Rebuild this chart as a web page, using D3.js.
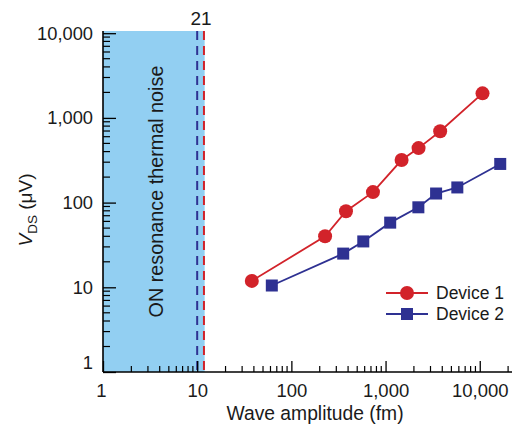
<!DOCTYPE html>
<html>
<head>
<meta charset="utf-8">
<script src="https://cdn.jsdelivr.net/npm/d3@7/dist/d3.min.js"></script>
<style>
  body { margin: 0; background: #fff; }
  text { font-family: "Liberation Sans", Arial, sans-serif; fill: #1a1a1a; }
</style>
</head>
<body>
<div id="chart"></div>
<script>
// data
var device1X = [38, 228, 380, 735, 1480, 2240, 3800, 10700];
var device1Y = [11.9, 40, 79, 133, 318, 440, 695, 1950];
var device2X = [62, 355, 580, 1120, 2230, 3440, 5780, 16500];
var device2Y = [10.5, 25, 34.8, 58, 88, 128, 151, 286];
var majorTicks = [1, 10, 100, 1000, 10000];
var noiseLimit = 12;      // fm, edge of thermal-noise band
var blueLineAt = 10;
var redLineAt = 11.8;

var width = 515, height = 426;
var svg = d3.select("#chart").append("svg").attr("width", width).attr("height", height);

var x = d3.scaleLog().domain([1, 22000]).range([103, 512]);
var y = d3.scaleLog().domain([1, 10000]).range([372, 33.2]);

var red = "#d2232a", blue = "#2e3192";
var fmt = d3.format(",");

// noise band
svg.append("rect")
  .attr("x", x(1)).attr("y", 31)
  .attr("width", x(noiseLimit) - x(1)).attr("height", y(1) - 31)
  .attr("fill", "#92cff2");

svg.append("line")
  .attr("x1", x(blueLineAt)).attr("x2", x(blueLineAt))
  .attr("y1", 31).attr("y2", y(1))
  .attr("stroke", blue).attr("stroke-width", 2).attr("stroke-dasharray", "9,6");
svg.append("line")
  .attr("x1", x(redLineAt)).attr("x2", x(redLineAt))
  .attr("y1", 31).attr("y2", y(1))
  .attr("stroke", red).attr("stroke-width", 2).attr("stroke-dasharray", "9,6");

svg.append("text")
  .attr("x", x(redLineAt) - 3).attr("y", 25)
  .attr("text-anchor", "middle").style("font-size", "19px")
  .text("21");

svg.append("text")
  .attr("transform", "translate(163,191.5) rotate(-90)")
  .attr("text-anchor", "middle").style("font-size", "19.8px")
  .text("ON resonance thermal noise");

// minor ticks
var minors = [];
majorTicks.forEach(function(m) { for (var k = 2; k <= 9; k++) minors.push(m * k); });

var xAxis = d3.axisBottom(x).tickValues(majorTicks).tickSize(-11).tickFormat(fmt).tickSizeOuter(0);
var gx = svg.append("g").attr("transform", "translate(0," + y(1) + ")").call(xAxis);
gx.select(".domain").attr("stroke-width", 1.6).attr("d", "M" + x(1) + ",0H512");
gx.selectAll(".tick line").attr("stroke-width", 1.3);
gx.selectAll(".tick text").attr("y", 12).attr("dy", "0.71em").style("font-size", "18.5px").style("font-family", "Liberation Sans, Arial");
gx.selectAll(".minor").data(minors.filter(function(v) { return x(v) < 512; }))
  .enter().append("line").attr("class", "minor")
  .attr("x1", function(d) { return x(d); }).attr("x2", function(d) { return x(d); })
  .attr("y1", 0).attr("y2", -6).attr("stroke", "#000").attr("stroke-width", 1.2);

var yAxis = d3.axisLeft(y).tickValues(majorTicks).tickSize(-13).tickFormat(fmt).tickSizeOuter(0);
var gy = svg.append("g").attr("transform", "translate(" + x(1) + ",0)").call(yAxis);
gy.select(".domain").attr("stroke-width", 1.6).attr("d", "M0," + y(1) + "V31");
gy.selectAll(".tick line").attr("stroke-width", 1.3);
gy.selectAll(".tick text").attr("x", -10).style("font-size", "18.3px").style("font-family", "Liberation Sans, Arial");
gy.selectAll(".tick").filter(function(d) { return d === 1; }).select("text").attr("dy", "-0.2em");
gx.selectAll(".tick").filter(function(d) { return d === 1; }).select("text").attr("x", -2);
gy.selectAll(".minor").data(minors.filter(function(v) { return v < 10000; }))
  .enter().append("line").attr("class", "minor")
  .attr("y1", function(d) { return y(d); }).attr("y2", function(d) { return y(d); })
  .attr("x1", 0).attr("x2", 7).attr("stroke", "#000").attr("stroke-width", 1.2);

// axis titles
svg.append("text")
  .attr("x", 315).attr("y", 420).attr("text-anchor", "middle").style("font-size", "19.3px")
  .text("Wave amplitude (fm)");

var yt = svg.append("text")
  .attr("transform", "translate(32,210) rotate(-90)")
  .attr("text-anchor", "middle").style("font-size", "19px");
yt.append("tspan").style("font-style", "italic").text("V");
yt.append("tspan").attr("dy", 5).style("font-size", "13.5px").text("DS");
yt.append("tspan").attr("dy", -5).text(" (\u03bcV)");

// series
var d1 = device1X.map(function(v, i) { return [v, device1Y[i]]; });
var d2 = device2X.map(function(v, i) { return [v, device2Y[i]]; });
var line = d3.line().x(function(d) { return x(d[0]); }).y(function(d) { return y(d[1]); });

svg.append("path").datum(d1).attr("d", line).attr("fill", "none").attr("stroke", red).attr("stroke-width", 1.8);
svg.append("path").datum(d2).attr("d", line).attr("fill", "none").attr("stroke", blue).attr("stroke-width", 1.8);

svg.selectAll(".dot1").data(d1).enter().append("circle")
  .attr("cx", function(d) { return x(d[0]); }).attr("cy", function(d) { return y(d[1]); })
  .attr("r", 7).attr("fill", red);
svg.selectAll(".sq2").data(d2).enter().append("rect")
  .attr("x", function(d) { return x(d[0]) - 6; }).attr("y", function(d) { return y(d[1]) - 6; })
  .attr("width", 12).attr("height", 12).attr("fill", blue);

// legend
var legend = [["Device 1", red, "circle"], ["Device 2", blue, "square"]];
var lg = svg.selectAll(".lg").data(legend).enter().append("g")
  .attr("transform", function(d, i) { return "translate(386," + (293 + i * 21) + ")"; });
lg.append("line").attr("x1", 0).attr("x2", 42).attr("stroke", function(d) { return d[1]; }).attr("stroke-width", 1.8);
lg.each(function(d) {
  var g = d3.select(this);
  if (d[2] === "circle") g.append("circle").attr("cx", 21).attr("r", 7).attr("fill", d[1]);
  else g.append("rect").attr("x", 15).attr("y", -6).attr("width", 12).attr("height", 12).attr("fill", d[1]);
});
lg.append("text").attr("x", 50).attr("dy", "0.35em").style("font-size", "17.5px").text(function(d) { return d[0]; });
</script>
</body>
</html>
